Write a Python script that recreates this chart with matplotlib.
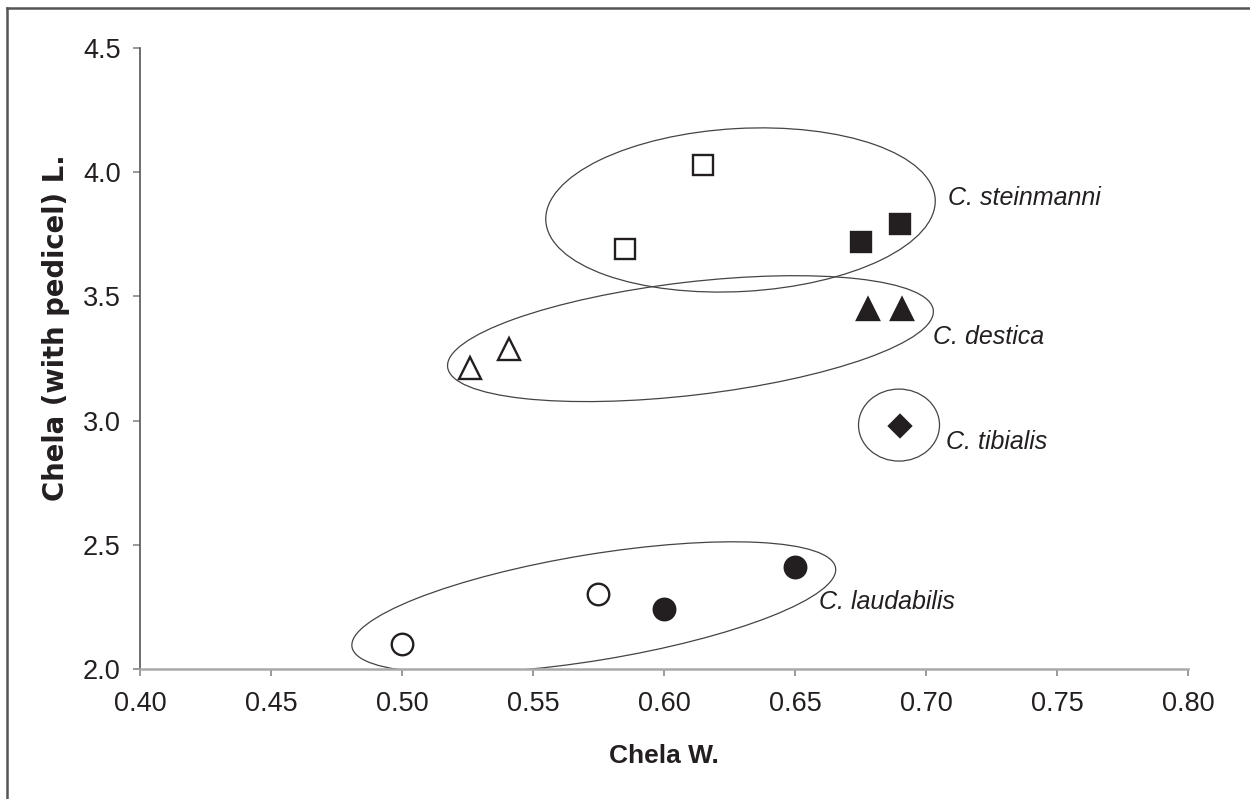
import matplotlib
matplotlib.use('Agg')
import matplotlib.pyplot as plt
from matplotlib.patches import Ellipse
from matplotlib.lines import Line2D
from matplotlib.transforms import ScaledTranslation

plt.rcParams['font.family'] = ['Liberation Sans', 'DejaVu Sans']

ink = '#231f20'

# data
laud_open_w = [0.500, 0.575]
laud_open_l = [2.10, 2.30]
laud_fill_w = [0.600, 0.650]
laud_fill_l = [2.24, 2.41]
dest_open_w = [0.526, 0.541]
dest_open_l = [3.21, 3.29]
dest_fill_w = [0.678, 0.691]
dest_fill_l = [3.45, 3.45]
tib_w = [0.690]
tib_l = [2.98]
stein_open_w = [0.585, 0.615]
stein_open_l = [3.69, 4.03]
stein_fill_w = [0.675, 0.690]
stein_fill_l = [3.72, 3.79]

species = ['C. steinmanni', 'C. destica', 'C. tibialis', 'C. laudabilis']
label_x = [0.7085, 0.7028, 0.7078, 0.6593]
label_y = [3.895, 3.335, 2.915, 2.27]

# group ellipses: centre (data), width/height (inches), angle (deg)
ell_cx = [0.6292, 0.6101, 0.6897, 0.5732]
ell_cy = [3.848, 3.330, 2.982, 2.248]
ell_w = [3.90, 4.89, 0.81, 4.90]
ell_h = [1.63, 1.13, 0.72, 1.06]
ell_ang = [3.2, 6.7, 0.0, 9.3]

fig = plt.figure(figsize=(12.5, 7.99), dpi=100)
ax = fig.add_axes([0.112, 0.1627, 0.8384, 0.7772])

ms_kw = dict(linestyle='none', markeredgewidth=1.7, markeredgecolor=ink)
ax.plot(laud_open_w, laud_open_l, 'o', ms=15.5, markerfacecolor='white', **ms_kw)
ax.plot(laud_fill_w, laud_fill_l, 'o', ms=15.5, markerfacecolor=ink, **ms_kw)
ax.plot(dest_open_w, dest_open_l, '^', ms=15.5, markerfacecolor='white', **ms_kw)
ax.plot(dest_fill_w, dest_fill_l, '^', ms=15.5, markerfacecolor=ink, **ms_kw)
ax.plot(tib_w, tib_l, 'D', ms=11, markerfacecolor=ink, **ms_kw)
ax.plot(stein_open_w, stein_open_l, 's', ms=15, markerfacecolor='white', **ms_kw)
ax.plot(stein_fill_w, stein_fill_l, 's', ms=15, markerfacecolor=ink, **ms_kw)

for cx, cy, w, h, a in zip(ell_cx, ell_cy, ell_w, ell_h, ell_ang):
    tr = fig.dpi_scale_trans + ScaledTranslation(cx, cy, ax.transData)
    ax.add_patch(Ellipse((0, 0), w, h, angle=a, transform=tr, fill=False,
                         edgecolor='#444444', linewidth=0.9))

for name, x, y in zip(species, label_x, label_y):
    ax.text(x, y, name, fontsize=18, style='italic', color=ink,
            ha='left', va='center')

ax.set_xlim(0.40, 0.80)
ax.set_ylim(2.0, 4.5)
ax.set_xticks([0.40, 0.45, 0.50, 0.55, 0.60, 0.65, 0.70, 0.75, 0.80])
ax.set_yticks([2.0, 2.5, 3.0, 3.5, 4.0, 4.5])
ax.xaxis.set_major_formatter(matplotlib.ticker.FormatStrFormatter('%.2f'))
ax.yaxis.set_major_formatter(matplotlib.ticker.FormatStrFormatter('%.1f'))

for s in ['top', 'right']:
    ax.spines[s].set_visible(False)
ax.spines['left'].set_color('#555555')
ax.spines['bottom'].set_color('#aaaaaa')
ax.spines['left'].set_linewidth(1.2)
ax.spines['bottom'].set_linewidth(1.8)
ax.tick_params(axis='y', direction='out', length=5, width=1.2, color='#888888',
               labelsize=19.5, labelcolor=ink, pad=9)
ax.tick_params(axis='x', direction='out', length=5, width=1.2, color='#888888',
               labelsize=19.5, labelcolor=ink, pad=11)
ax.set_xlim(0.40, 0.80)
ax.set_ylim(2.0, 4.5)

ax.set_xlabel('Chela W.', fontsize=19, fontweight='bold', color=ink, labelpad=19)
ax.set_ylabel('Chela (with pedicel) L.', fontsize=19.8, fontweight='bold', color=ink,
              family=['DejaVu Sans'])
ax.yaxis.set_label_coords(-0.0668, 0.549)

# outer frame (left and top edges visible)
fig.add_artist(Line2D([7 / 1250, 7 / 1250], [0, 1 - 8 / 799], transform=fig.transFigure,
                      color='#555555', linewidth=1.8))
fig.add_artist(Line2D([7 / 1250, 1], [1 - 8 / 799, 1 - 8 / 799], transform=fig.transFigure,
                      color='#555555', linewidth=1.8))

fig.savefig('out.png', dpi=100)
